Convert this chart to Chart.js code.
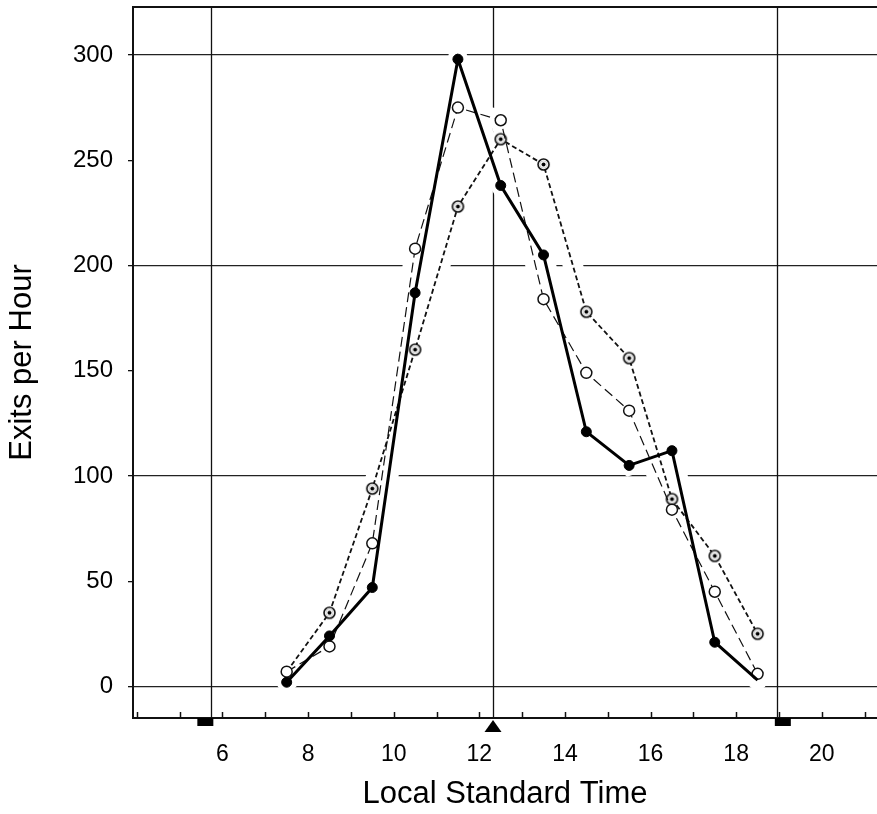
<!DOCTYPE html>
<html lang="en">
<head>
  <meta charset="UTF-8" />
  <title>Exits per Hour</title>
  <style>
    body {
      margin: 0;
      padding: 0;
      background: white;
    }

    .chart-box {
      width: 877px;
      height: 814px;
      position: relative;
    }
  </style>
</head>
<body>

<div class="chart-box">
  <canvas id="exitChart" width="877" height="814"></canvas>
</div>

<script src="https://cdn.jsdelivr.net/npm/chart.js"></script>
<script>
// hour of day (mid-point of each hourly count)
const hours = [7.5, 8.5, 9.5, 10.5, 11.5, 12.5, 13.5, 14.5, 15.5, 16.5, 17.5, 18.5];

// three observation days
const filledExits = [2, 24, 47, 187, 298, 238, 205, 121, 105, 112, 21, 3];
const openExits = [7, 19, 68, 208, 275, 269, 184, 149, 131, 84, 45, 6];
const dottedExits = [7, 35, 94, 160, 228, 260, 248, 178, 156, 89, 62, 25];

// sunrise, solar noon, sunset
const sunEvents = [5.74, 12.32, 18.95];
const sunMarks = ['rectLeft', 'triangle', 'rectRight'];

const yTicks = [0, 50, 100, 150, 200, 250, 300];
const yGridValues = [0, 100, 200, 300];
const xTicks = [4, 5, 6, 7, 8, 9, 10, 11, 12, 13, 14, 15, 16, 17, 18, 19, 20, 21];
const xLabels = [6, 8, 10, 12, 14, 16, 18, 20];

const FONT = '"Liberation Sans", Arial, Helvetica, sans-serif';
const INK = '#111';

const toPoints = vals => vals.map((v, i) => ({ x: hours[i], y: v }));

// circle with a dot in the middle
function makeDotCircle() {
  const c = document.createElement('canvas');
  c.width = 15;
  c.height = 15;
  const g = c.getContext('2d');
  g.fillStyle = 'white';
  g.strokeStyle = INK;
  g.lineWidth = 1.6;
  g.beginPath();
  g.arc(7.5, 7.5, 5.5, 0, Math.PI * 2);
  g.fill();
  g.stroke();
  g.strokeStyle = '#bbb';
  g.lineWidth = 0.7;
  g.beginPath();
  g.arc(7.5, 7.5, 3.6, 0, Math.PI * 2);
  g.stroke();
  g.fillStyle = '#000';
  g.beginPath();
  g.arc(7.5, 7.5, 2, 0, Math.PI * 2);
  g.fill();
  return c;
}

// white band under each series, cuts the grid where lines cross it
const halo = vals => ({
  type: 'line',
  data: toPoints(vals),
  borderColor: '#ffffff',
  borderWidth: 20,
  borderCapStyle: 'round',
  pointRadius: 0,
  tension: 0,
  order: 10
});

// sun lines, top frame and inward ticks
const framePlugin = {
  id: 'framePlugin',
  beforeDatasetsDraw(chart) {
    const { ctx, chartArea, scales } = chart;
    ctx.save();
    ctx.strokeStyle = INK;
    ctx.lineWidth = 1.3;
    sunEvents.forEach(h => {
      const px = Math.round(scales.x.getPixelForValue(h)) + 0.5;
      ctx.beginPath();
      ctx.moveTo(px, chartArea.top);
      ctx.lineTo(px, chartArea.bottom);
      ctx.stroke();
    });
    ctx.lineWidth = 2;
    ctx.beginPath();
    ctx.moveTo(chartArea.left, chartArea.top);
    ctx.lineTo(chartArea.right, chartArea.top);
    ctx.stroke();
    ctx.restore();
  },
  afterDatasetsDraw(chart) {
    const { ctx, chartArea, scales } = chart;
    const base = chartArea.bottom;
    ctx.save();
    ctx.strokeStyle = INK;
    ctx.lineWidth = 1.5;
    xTicks.forEach(h => {
      const px = Math.round(scales.x.getPixelForValue(h)) + 0.5;
      ctx.beginPath();
      ctx.moveTo(px, base);
      ctx.lineTo(px, base - 6);
      ctx.stroke();
    });
    ctx.fillStyle = '#000';
    sunEvents.forEach((h, i) => {
      const px = scales.x.getPixelForValue(h);
      const kind = sunMarks[i];
      ctx.beginPath();
      if (kind === 'triangle') {
        ctx.moveTo(px, base + 2);
        ctx.lineTo(px + 8.5, base + 14);
        ctx.lineTo(px - 8.5, base + 14);
        ctx.closePath();
      } else if (kind === 'rectLeft') {
        ctx.rect(px - 14, base, 16, 8);
      } else {
        ctx.rect(px - 2, base, 16, 8);
      }
      ctx.fill();
    });
    ctx.restore();
  }
};

const ctx = document.getElementById('exitChart').getContext('2d');

new Chart(ctx, {
  type: 'line',
  data: {
    datasets: [
      {
        label: 'day 1',
        data: toPoints(filledExits),
        borderColor: '#000',
        borderWidth: 3,
        // last one sits under the open circle
        pointRadius: c => c.dataIndex === filledExits.length - 1 ? 0 : 5,
        pointBackgroundColor: '#000',
        pointBorderColor: '#000',
        pointBorderWidth: 1,
        tension: 0,
        order: 1
      },
      {
        label: 'day 2',
        data: toPoints(openExits),
        borderColor: INK,
        borderWidth: 1.2,
        borderDash: [10, 5],
        pointRadius: 5.5,
        pointBackgroundColor: 'white',
        pointBorderColor: INK,
        pointBorderWidth: 1.5,
        tension: 0,
        order: 2
      },
      {
        label: 'day 3',
        data: toPoints(dottedExits),
        borderColor: INK,
        borderWidth: 1.8,
        borderDash: [5, 3],
        pointStyle: makeDotCircle(),
        pointRadius: c => c.dataIndex === 0 ? 0 : 5,
        tension: 0,
        order: 3
      },
      halo(filledExits),
      halo(openExits),
      halo(dottedExits)
    ]
  },
  options: {
    responsive: false,
    animation: false,
    layout: { autoPadding: false, padding: { top: 7, right: 0, bottom: 0, left: 0 } },
    plugins: {
      legend: { display: false },
      tooltip: { enabled: false }
    },
    scales: {
      x: {
        type: 'linear',
        min: 3.91,
        max: 21.29,
        afterBuildTicks: s => { s.ticks = xTicks.map(v => ({ value: v })); },
        afterFit: s => {
          s.height = 96;
          s.paddingLeft = 0;
          s.paddingRight = 0;
        },
        grid: { display: false },
        border: { display: true, color: INK, width: 2 },
        ticks: {
          autoSkip: false,
          maxRotation: 0,
          padding: 15,
          color: '#000',
          font: { family: FONT, size: 23 },
          callback: v => xLabels.includes(v) ? String(v) : ''
        },
        title: {
          display: true,
          text: 'Local Standard Time',
          color: '#000',
          font: { family: FONT, size: 31, lineHeight: 1 },
          padding: { top: 0, bottom: 4 }
        }
      },
      y: {
        type: 'linear',
        min: -15,
        max: 322.8,
        afterBuildTicks: s => { s.ticks = yTicks.map(v => ({ value: v })); },
        afterFit: s => {
          s.width = 133;
          s.paddingTop = 0;
          s.paddingBottom = 0;
        },
        grid: {
          color: c => yGridValues.includes(c.tick.value) ? '#222' : 'rgba(0,0,0,0)',
          lineWidth: 1.3,
          tickColor: INK,
          tickLength: 5
        },
        border: { display: true, color: INK, width: 2 },
        ticks: {
          padding: 15,
          color: '#000',
          font: { family: FONT, size: 24 }
        },
        title: {
          display: true,
          text: 'Exits per Hour',
          color: '#000',
          font: { family: FONT, size: 31, lineHeight: 1 },
          padding: { top: 7, bottom: 0 }
        }
      }
    }
  },
  plugins: [framePlugin]
});
</script>
</body>
</html>
